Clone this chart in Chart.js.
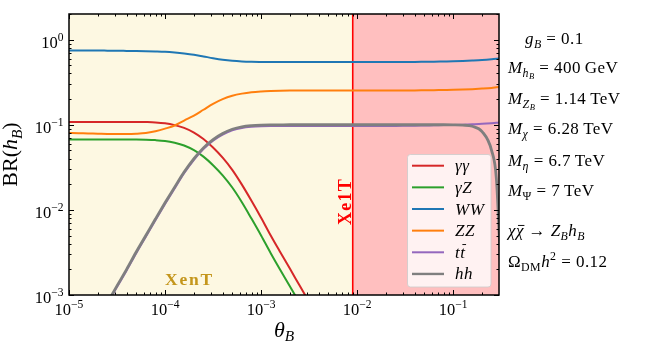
<!DOCTYPE html>
<html><head><meta charset="utf-8">
<script src="https://cdn.jsdelivr.net/npm/chart.js@4/dist/chart.umd.min.js"></script>
<style>html,body{margin:0;padding:0;background:#fff;overflow:hidden}</style>
</head><body>
<canvas id="c" width="665" height="350"></canvas>
<script>
// ---------- data ----------
const thetaValues = [
  1.00e-5, 1.26e-5, 1.58e-5, 2.00e-5, 2.51e-5, 3.16e-5, 3.98e-5, 5.01e-5, 6.31e-5, 7.94e-5,
  1.00e-4, 1.26e-4, 1.58e-4, 2.00e-4, 2.51e-4, 3.16e-4, 3.98e-4, 5.01e-4, 6.31e-4, 7.94e-4,
  1.00e-3, 1.26e-3, 1.58e-3, 2.00e-3, 2.51e-3, 3.16e-3, 3.98e-3, 5.01e-3, 6.31e-3, 7.94e-3,
  1.00e-2, 1.26e-2, 1.58e-2, 2.00e-2, 2.51e-2, 3.16e-2, 3.98e-2, 5.01e-2, 6.31e-2, 7.94e-2,
  1.00e-1, 1.26e-1, 1.58e-1, 2.00e-1, 2.51e-1, 2.82e-1, 3.16e-1
];
const brGammaGamma = [
  0.108, 0.108, 0.108, 0.108, 0.108, 0.108, 0.108, 0.108, 0.1075, 0.1065,
  0.104, 0.099, 0.092, 0.081, 0.068, 0.054, 0.041, 0.0295, 0.0198, 0.0128,
  0.0081, 0.0050, 0.0032, 0.00203, 0.0013, 0.00083, 0.00053, 0.00034, null, null,
  null, null, null, null, null, null, null, null, null, null,
  null, null, null, null, null, null, null
];
const brGammaZ = [
  0.067, 0.067, 0.067, 0.067, 0.067, 0.067, 0.067, 0.067, 0.0667, 0.066,
  0.0645, 0.0614, 0.057, 0.0502, 0.0422, 0.0335, 0.0254, 0.0183, 0.0123, 0.0079,
  0.0050, 0.0031, 0.00198, 0.00126, 0.00081, 0.00051, 0.00033, 0.00021, null, null,
  null, null, null, null, null, null, null, null, null, null,
  null, null, null, null, null, null, null
];
const brWW = [
  0.745, 0.745, 0.745, 0.744, 0.742, 0.740, 0.737, 0.734, 0.730, 0.725,
  0.718, 0.705, 0.688, 0.665, 0.635, 0.605, 0.580, 0.563, 0.553, 0.548,
  0.546, 0.545, 0.545, 0.545, 0.545, 0.545, 0.545, 0.545, 0.545, 0.545,
  0.545, 0.545, 0.545, 0.545, 0.545, 0.546, 0.547, 0.549, 0.551, 0.554,
  0.557, 0.562, 0.568, 0.576, 0.588, 0.596, 0.605
];
const brZZ = [
  0.080, 0.0795, 0.079, 0.0785, 0.078, 0.078, 0.078, 0.0785, 0.080, 0.084,
  0.090, 0.098, 0.112, 0.128, 0.150, 0.176, 0.200, 0.219, 0.232, 0.241,
  0.246, 0.249, 0.251, 0.252, 0.252, 0.252, 0.252, 0.252, 0.252, 0.252,
  0.252, 0.252, 0.252, 0.252, 0.252, 0.253, 0.253, 0.254, 0.255, 0.256,
  0.257, 0.259, 0.262, 0.266, 0.271, 0.275, 0.279
];
const brTT = [
  0.000125, 0.000197, 0.00031, 0.000495, 0.00079, 0.00124, 0.00194, 0.0031, 0.00485, 0.00757,
  0.0117, 0.0179, 0.027, 0.0388, 0.0519, 0.065, 0.0766, 0.0858, 0.0917, 0.0946,
  0.096, 0.0966, 0.0968, 0.097, 0.097, 0.097, 0.097, 0.097, 0.097, 0.097,
  0.097, 0.097, 0.097, 0.097, 0.097, 0.0972, 0.0975, 0.098, 0.0985, 0.099,
  0.0995, 0.1003, 0.1013, 0.1025, 0.1043, 0.1055, 0.107
];
const brHH = [
  0.000129, 0.000203, 0.00032, 0.00051, 0.00081, 0.00128, 0.0020, 0.0032, 0.0050, 0.0078,
  0.0121, 0.0185, 0.0278, 0.0400, 0.0535, 0.0670, 0.0790, 0.0885, 0.0945, 0.0975,
  0.0990, 0.0996, 0.0998, 0.100, 0.100, 0.100, 0.100, 0.100, 0.100, 0.100,
  0.100, 0.100, 0.100, 0.100, 0.100, 0.100, 0.100, 0.100, 0.100, 0.100,
  0.0998, 0.099, 0.096, 0.083, 0.050, 0.023, 0.0015
];
const seriesLabels = ['\u03B3\u03B3', '\u03B3Z', 'WW', 'ZZ', 'tt\u0304', 'hh'];
const xMajorTicks = [1e-5, 1e-4, 1e-3, 1e-2, 1e-1];
const xTickExponents = ['\u22125', '\u22124', '\u22123', '\u22122', '\u22121'];
const yMajorTicks = [1e-3, 1e-2, 1e-1, 1];
const yTickExponents = ['\u22123', '\u22122', '\u22121', '0'];
const minorMultipliers = [2, 3, 4, 5, 6, 7, 8, 9];
const xenon1TLimit = 9e-3;
const xRange = [1e-5, 0.3];
const yRange = [1e-3, 2];

// ---------- styles ----------
const seriesData = [brGammaGamma, brGammaZ, brWW, brZZ, brTT, brHH];
const seriesColors = ['#d62728', '#2ca02c', '#1f77b4', '#ff7f0e', '#9467bd', '#7f7f7f'];
const seriesWidths = [2, 2, 2, 2, 2, 2.8];
const SERIF = '"Liberation Serif", "DejaVu Serif", serif';

function font(size, italic, bold) {
  return (italic ? 'italic ' : '') + (bold ? 'bold ' : '') + size + 'px ' + SERIF;
}
// parts: [text, italic, level, bar] ; level 0 base, -1 sub, -2 subsub, 1 sup
function mathText(ctx, x, y, parts, size, draw, spacing) {
  let cx = x;
  ctx.letterSpacing = (spacing || 0) + 'px';
  for (const [t, it, lvl, bar] of parts) {
    const fs = lvl === 0 ? size : (lvl === -2 ? size * 0.5 : size * 0.7);
    const dy = lvl === 0 ? 0 : (lvl === -1 ? size * 0.22 : (lvl === -2 ? size * 0.34 : -size * 0.42));
    ctx.font = font(fs, it, false);
    const w = ctx.measureText(t).width;
    if (draw !== false) {
      ctx.fillText(t, cx, y + dy);
      if (bar) {
        const by = y + dy - fs * bar;
        ctx.save();
        ctx.strokeStyle = ctx.fillStyle;
        ctx.lineWidth = Math.max(0.9, fs * 0.055);
        ctx.beginPath();
        ctx.moveTo(cx + fs * 0.12, by); ctx.lineTo(cx + w - (spacing || 0) + fs * 0.06, by);
        ctx.stroke();
        ctx.restore();
      }
    }
    cx += w;
  }
  ctx.letterSpacing = '0px';
  return cx - x;
}
function powLabel(exp) {
  return [['10', false, 0], [exp, false, 1]];
}

const decor = {
  id: 'decor',
  beforeDatasetsDraw(chart) {
    const { ctx, chartArea: a, scales: { x } } = chart;
    const xl = x.getPixelForValue(xenon1TLimit);
    ctx.save();
    ctx.fillStyle = '#fdf8e2';
    ctx.fillRect(a.left, a.top, xl - a.left, a.bottom - a.top);
    ctx.fillStyle = '#ffbfbf';
    ctx.fillRect(xl, a.top, a.right - xl, a.bottom - a.top);
    ctx.strokeStyle = '#ff0000';
    ctx.lineWidth = 1.6;
    ctx.beginPath(); ctx.moveTo(xl, a.top); ctx.lineTo(xl, a.bottom); ctx.stroke();
    // XenT
    ctx.fillStyle = '#c4961c';
    ctx.font = font(17.5, false, true);
    ctx.textBaseline = 'alphabetic';
    ctx.letterSpacing = '1.8px';
    ctx.fillText('XenT', 165, 284.5);
    // Xe1T rotated
    ctx.save();
    ctx.translate(xl - 1.5, 201.5);
    ctx.rotate(-Math.PI / 2);
    ctx.fillStyle = '#ff0000';
    ctx.font = font(18, false, true);
    ctx.letterSpacing = '1.2px';
    ctx.textAlign = 'center';
    ctx.fillText('Xe1T', 0, 0);
    ctx.restore();
    ctx.letterSpacing = '0px';
    ctx.restore();
  },
  afterDatasetsDraw(chart) {
    const { ctx, chartArea: a, scales: { x, y } } = chart;
    ctx.save();
    // frame
    ctx.strokeStyle = '#000';
    ctx.lineWidth = 1.5;
    ctx.strokeRect(a.left, a.top, a.right - a.left, a.bottom - a.top);
    // ticks
    ctx.lineWidth = 1;
    const tick = (px, py, dx, dy) => { ctx.beginPath(); ctx.moveTo(px, py); ctx.lineTo(px + dx, py + dy); ctx.stroke(); };
    xMajorTicks.forEach(v => {
      const px = Math.round(x.getPixelForValue(v)) + 0.5;
      tick(px, a.bottom, 0, -5); tick(px, a.top, 0, 5);
      minorMultipliers.forEach(m => {
        const mv = v * m;
        if (mv > xRange[1]) return;
        const mx = Math.round(x.getPixelForValue(mv)) + 0.5;
        tick(mx, a.bottom, 0, -2.5); tick(mx, a.top, 0, 2.5);
      });
    });
    yMajorTicks.forEach(v => {
      const py = Math.round(y.getPixelForValue(v)) + 0.5;
      tick(a.left, py, 5, 0); tick(a.right, py, -5, 0);
      minorMultipliers.forEach(m => {
        const mv = v * m;
        if (mv > yRange[1]) return;
        const my = Math.round(y.getPixelForValue(mv)) + 0.5;
        tick(a.left, my, 2.5, 0); tick(a.right, my, -2.5, 0);
      });
    });
    // tick labels
    ctx.fillStyle = '#000';
    ctx.textBaseline = 'alphabetic';
    ctx.textAlign = 'left';
    xMajorTicks.forEach((v, i) => {
      const parts = powLabel(xTickExponents[i]);
      const w = mathText(ctx, 0, 0, parts, 16.5, false);
      mathText(ctx, x.getPixelForValue(v) - w / 2, a.bottom + 20, parts, 16.5);
    });
    yMajorTicks.forEach((v, i) => {
      const parts = powLabel(yTickExponents[i]);
      const w = mathText(ctx, 0, 0, parts, 16.5, false);
      mathText(ctx, 63.5 - w, y.getPixelForValue(v) + 8, parts, 16.5);
    });
    // axis titles
    const xt = [['\u03B8', true, 0], ['B', true, -1]];
    const wx = mathText(ctx, 0, 0, xt, 22, false);
    mathText(ctx, (a.left + a.right) / 2 - wx / 2, 336.5, xt, 22);
    const yt = [['BR(', false, 0], ['h', true, 0], ['B', true, -1], [')', false, 0]];
    const wy = mathText(ctx, 0, 0, yt, 22, false);
    ctx.save();
    ctx.translate(17, (a.top + a.bottom) / 2);
    ctx.rotate(-Math.PI / 2);
    mathText(ctx, -wy / 2, 0, yt, 22);
    ctx.restore();

    // legend
    const lx = 407.5, ly = 154.5, lw = 83.5, lh = 132.5;
    ctx.beginPath();
    ctx.roundRect(lx, ly, lw, lh, 3);
    ctx.fillStyle = 'rgba(255,255,255,0.8)';
    ctx.fill();
    ctx.strokeStyle = 'rgba(204,204,204,0.8)';
    ctx.lineWidth = 1;
    ctx.stroke();
    const legendParts = [
      [['\u03B3\u03B3', true, 0]],
      [['\u03B3Z', true, 0]],
      [['WW', true, 0]],
      [['ZZ', true, 0]],
      [['t', true, 0], ['t', true, 0, 0.78]],
      [['hh', true, 0]]
    ];
    legendParts.forEach((parts, i) => {
      const ry = 165.7 + i * 21.65;
      ctx.strokeStyle = seriesColors[i];
      ctx.lineWidth = i === 5 ? 2.4 : 2;
      ctx.beginPath(); ctx.moveTo(412, ry); ctx.lineTo(444, ry); ctx.stroke();
      ctx.fillStyle = '#000';
      mathText(ctx, 455, ry + 5.5, parts, 17, true, 0.6);
    });

    // side annotations
    const S = 17;
    const sp = 0.45;
    ctx.fillStyle = '#000';
    mathText(ctx, 525, 44, [['g', true, 0], ['B', true, -1], [' = 0.1', false, 0]], S, true, sp);
    mathText(ctx, 508, 73, [['M', true, 0], ['h', true, -1], ['B', true, -2], [' = 400\u2009GeV', false, 0]], S, true, sp);
    mathText(ctx, 508, 104, [['M', true, 0], ['Z', true, -1], ['B', true, -2], [' = 1.14\u2009TeV', false, 0]], S, true, sp);
    mathText(ctx, 508, 134, [['M', true, 0], ['\u03C7', true, -1], [' = 6.28\u2009TeV', false, 0]], S, true, sp);
    mathText(ctx, 508, 166, [['M', true, 0], ['\u03B7', true, -1], [' = 6.7\u2009TeV', false, 0]], S, true, sp);
    mathText(ctx, 508, 196, [['M', true, 0], ['\u03A8', false, -1], [' = 7\u2009TeV', false, 0]], S, true, sp);
    mathText(ctx, 508, 236, [['\u03C7', true, 0], ['\u03C7', true, 0, 0.62], [' \u2192 ', false, 0], ['Z', true, 0], ['B', true, -1], ['h', true, 0], ['B', true, -1]], S, true, sp);
    mathText(ctx, 508, 267, [['\u03A9', false, 0], ['DM', false, -1], ['h', true, 0], ['2', false, 1], [' = 0.12', false, 0]], S, true, sp);
    ctx.restore();
  }
};

const datasets = seriesData.map((arr, i) => ({
  label: seriesLabels[i],
  data: thetaValues.map((t, k) => ({ x: t, y: arr[k] })),
  borderColor: seriesColors[i],
  borderWidth: seriesWidths[i],
  pointRadius: 0,
  fill: false,
  cubicInterpolationMode: 'monotone',
  clip: 0,
  order: seriesData.length - i
}));

new Chart(document.getElementById('c'), {
  type: 'line',
  data: { datasets },
  options: {
    responsive: false,
    animation: false,
    devicePixelRatio: 1,
    layout: { padding: { top: 14, right: 166, left: 0, bottom: 0 } },
    plugins: { legend: { display: false }, tooltip: { enabled: false } },
    scales: {
      x: {
        type: 'logarithmic', min: xRange[0], max: xRange[1],
        grid: { display: false }, border: { display: false },
        ticks: { display: false },
        afterFit(s) { s.height = 55; }
      },
      y: {
        type: 'logarithmic', min: yRange[0], max: yRange[1],
        grid: { display: false }, border: { display: false },
        ticks: { display: false },
        afterFit(s) { s.width = 69; }
      }
    }
  },
  plugins: [decor]
});
</script>
</body></html>
